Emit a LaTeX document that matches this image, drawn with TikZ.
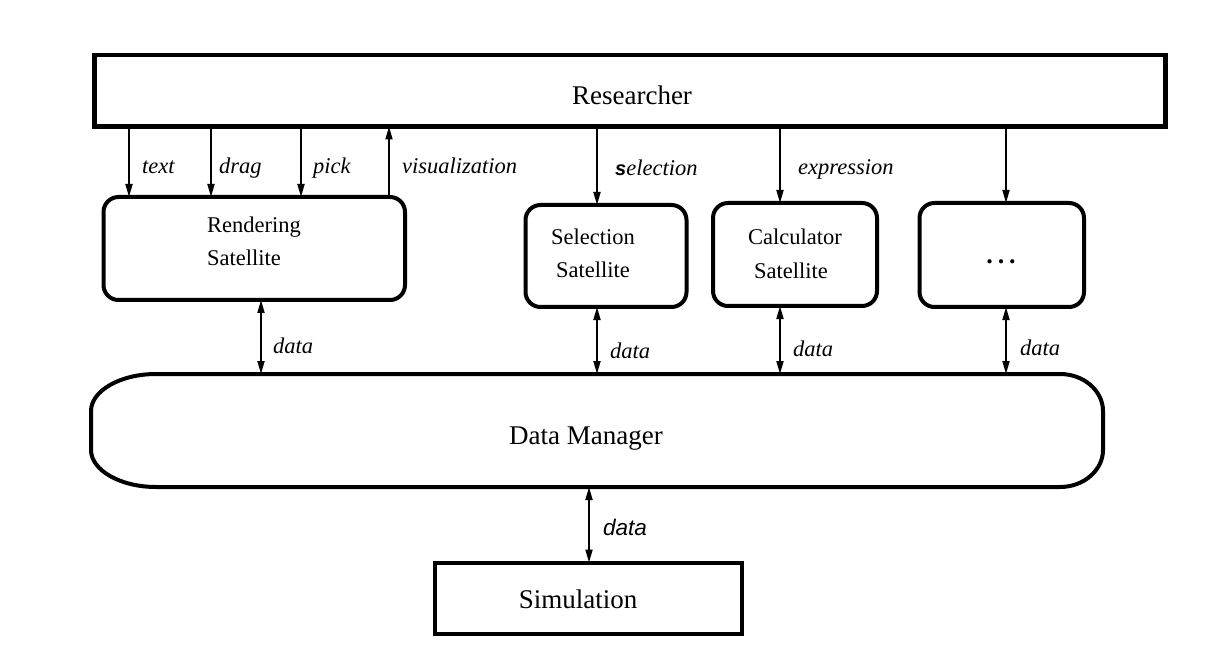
\documentclass[tikz,border=0pt]{standalone}
\usepackage{fontspec}
\setmainfont{Liberation Serif}
\newfontfamily\sansf{Liberation Sans}
\usetikzlibrary{arrows.meta}
\begin{document}
\begin{tikzpicture}[x=1pt,y=-1pt,
  bigtxt/.style={font=\fontsize{27}{33}\selectfont, inner sep=0pt},
  boxtxt/.style={font=\fontsize{22.5}{33}\selectfont, inner sep=0pt},
  lbl/.style={font=\fontsize{22.5}{27}\selectfont\itshape, inner sep=0pt, anchor=base west},
  satbox/.style={draw, line width=4pt, rounded corners=15pt, inner sep=0pt, outer sep=0pt},
  sqbox/.style={draw, line width=4.5pt, inner sep=0pt, outer sep=0pt},
  conn/.style={line width=1.8pt, -{Triangle[length=13pt,width=7pt]}},
  dconn/.style={line width=1.8pt, {Triangle[length=13pt,width=7pt]}-{Triangle[length=13pt,width=7pt]}}
]
\useasboundingbox (0,0) rectangle (1226,660);
\fill[white] (0,0) rectangle (1226,660);

% Researcher
\node[sqbox, minimum width=1071pt, minimum height=71.5pt] (res) at (630,90.75) {};
\node[bigtxt, anchor=base] (restxt) at (632,105) {Researcher};

% Satellites
\node[satbox, minimum width=301.5pt, minimum height=103pt] (rend) at (254.25,248.5) {};
\node[boxtxt, anchor=base west] (rendA) at (207,233) {Rendering};
\node[boxtxt, anchor=base west] (rendB) at (207,266) {Satellite};

\node[satbox, minimum width=161pt, minimum height=102pt] (sel) at (606,256) {};
\node[boxtxt, anchor=base] (selA) at (593,245) {Selection};
\node[boxtxt, anchor=base] (selB) at (593,278) {Satellite};

\node[satbox, minimum width=164pt, minimum height=103pt] (calc) at (795,254.5) {};
\node[boxtxt, anchor=base] (calcA) at (795,245) {Calculator};
\node[boxtxt, anchor=base] (calcB) at (791,279) {Satellite};

\node[satbox, minimum width=164.5pt, minimum height=104pt] (more) at (1001.75,255) {};
\node[boxtxt, anchor=base, font=\fontsize{26}{33}\selectfont\bfseries] (moreA) at (1001,264) {.\hspace{5pt}.\hspace{5pt}.};

% Data Manager
\node[inner sep=0pt, outer sep=0pt, minimum width=1012pt, minimum height=113pt] (dm) at (597,430.5) {};
\draw[line width=4pt]
  (156,374) -- (1060,374)
  .. controls (1084,374) and (1103,391) .. (1103,411)
  -- (1103,450)
  .. controls (1103,470) and (1084,487) .. (1060,487)
  -- (156,487)
  .. controls (120,487) and (91,470) .. (91,450)
  -- (91,411)
  .. controls (91,391) and (120,374) .. (156,374) -- cycle;
\node[bigtxt, anchor=base] (dmtxt) at (586,444) {Data Manager};

% Simulation
\node[draw, line width=4pt, inner sep=0pt, outer sep=0pt, minimum width=307pt, minimum height=71.5pt] (sim) at (588.5,598.3) {};
\node[bigtxt, anchor=base] (simtxt) at (578,608) {Simulation};

% x positions of connectors
\coordinate (xt) at (129,0);
\coordinate (xd) at (211,0);
\coordinate (xp) at (301,0);
\coordinate (xv) at (389,0);
\coordinate (xs) at (597,0);
\coordinate (xc) at (780,0);
\coordinate (xm) at (1006,0);
\coordinate (xr) at (261,0);
\coordinate (xb) at (589,0);

% Researcher <-> satellites
\draw[conn] (res.south -| xt) -- (rend.north -| xt);
\draw[conn] (res.south -| xd) -- (rend.north -| xd);
\draw[conn] (res.south -| xp) -- (rend.north -| xp);
\draw[conn] (rend.north -| xv) -- (res.south -| xv);
\draw[conn] (res.south -| xs) -- (sel.north -| xs);
\draw[conn] (res.south -| xc) -- (calc.north -| xc);
\draw[conn] (res.south -| xm) -- (more.north -| xm);

% satellites <-> data manager
\draw[dconn] (rend.south -| xr) -- (dm.north -| xr);
\draw[dconn] (sel.south -| xs) -- (dm.north -| xs);
\draw[dconn] (calc.south -| xc) -- (dm.north -| xc);
\draw[dconn] (more.south -| xm) -- (dm.north -| xm);
\draw[dconn] (dm.south -| xb) -- (sim.north -| xb);

% labels
\node[lbl] (ltext) at (142,174) {text};
\node[lbl] (ldrag) at (219,174) {drag};
\node[lbl] (lpick) at (313,174) {pick};
\node[lbl] (lvis) at (402,174) {visualization};
\node[lbl] (lsel) at (615,176) {{\sansf\bfseries\itshape\fontsize{20}{24}\selectfont s}election};
\node[lbl] (lexp) at (798,175) {expression};
\node[lbl] (ld1) at (273,353) {data};
\node[lbl] (ld2) at (610,358) {data};
\node[lbl] (ld3) at (793,356) {data};
\node[lbl] (ld4) at (1020,355) {data};
\node[lbl, font=\fontsize{22.5}{27}\selectfont\sansf\itshape] (ld5) at (603,535) {data};
\end{tikzpicture}
\end{document}
